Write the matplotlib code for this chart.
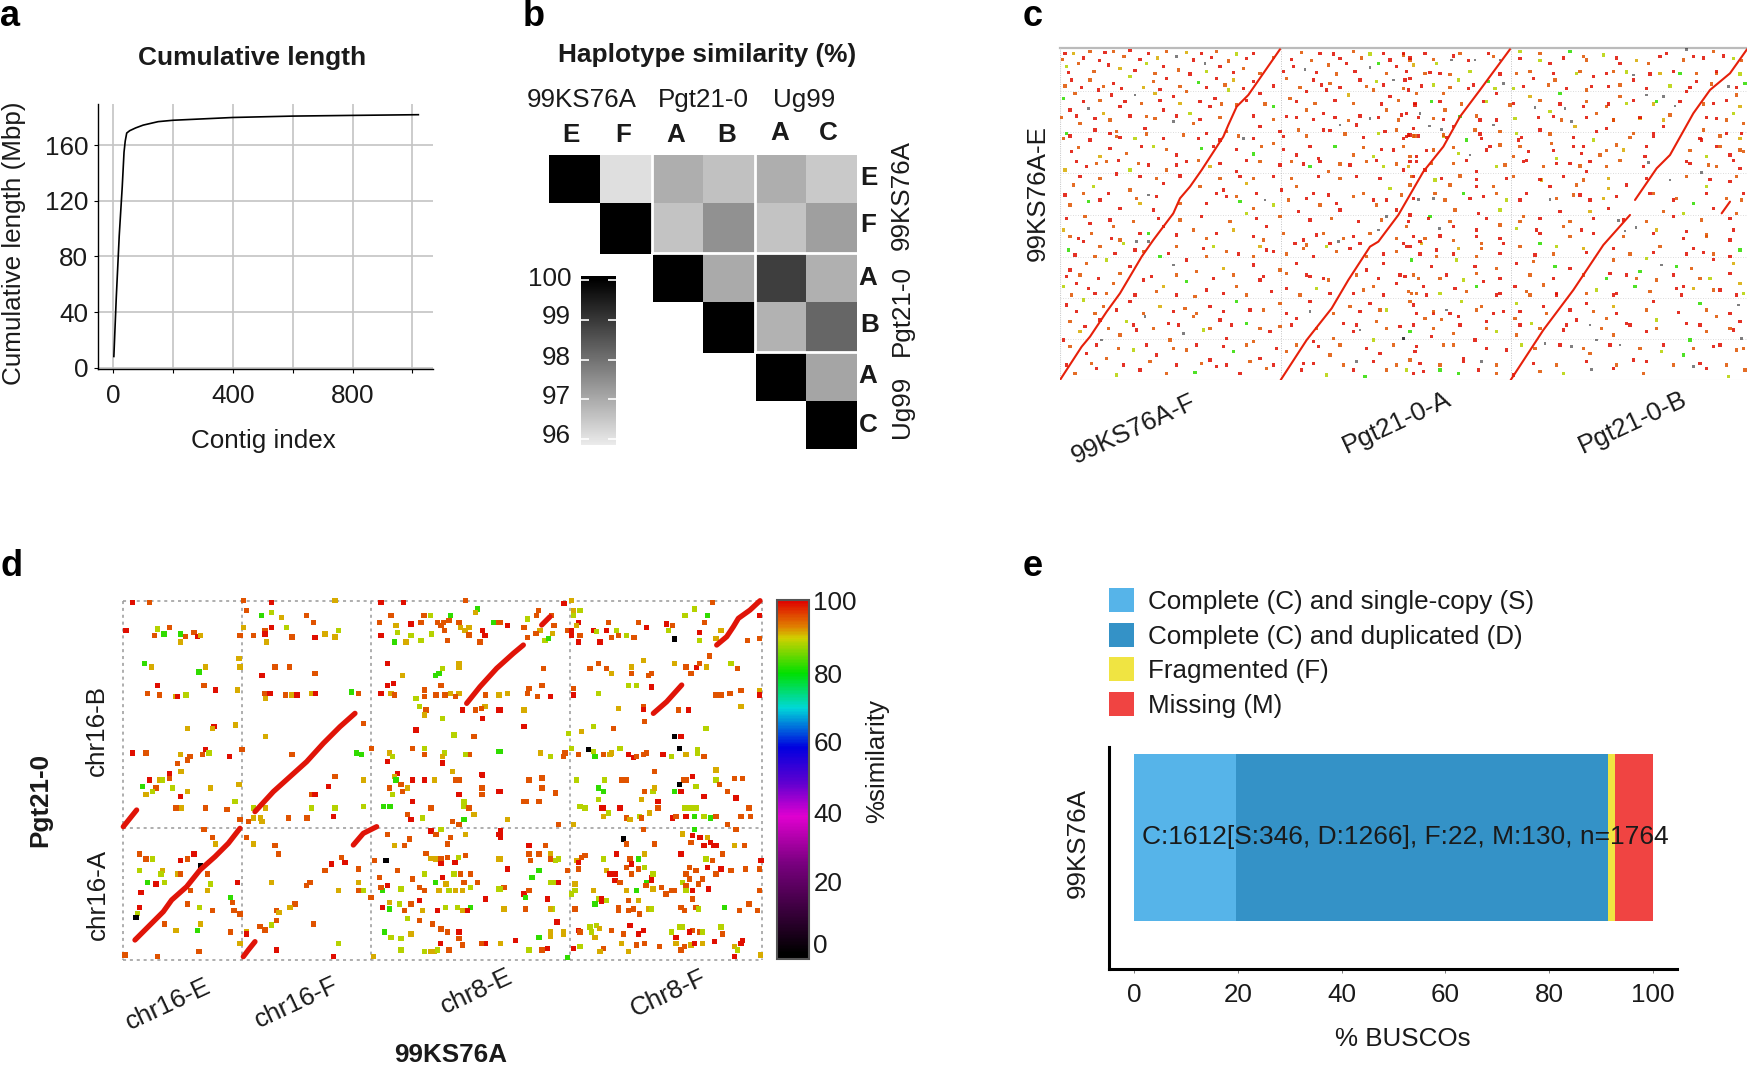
import numpy as np
import matplotlib
matplotlib.use("Agg")
import matplotlib.pyplot as plt
from matplotlib.cm import ScalarMappable
from matplotlib.colors import LinearSegmentedColormap, Normalize
from matplotlib.patches import Patch

plt.rcParams["font.family"] = ["Liberation Sans", "DejaVu Sans"]

W, H = 1747, 1065

# ------------------ PANEL A DATA ------------------

contig_index = [2, 10, 20, 30, 36, 40, 45, 55, 75, 100, 150, 200, 300, 400, 600, 800, 1020]
cumulative_mbp = [8, 50, 95, 130, 155, 163, 168.8, 170.5, 172.5, 174.5, 177, 178, 179, 180, 181, 181.5, 182]

# ------------------ PANEL B DATA ------------------

haplotype_similarity = [
    [100, 96.07, 96.94, 96.6, 96.94, 96.45],
    [np.nan, 100, 96.55, 97.44, 96.55, 97.2],
    [np.nan, np.nan, 100, 97.0, 98.9, 96.9],
    [np.nan, np.nan, np.nan, 100, 96.85, 98.2],
    [np.nan, np.nan, np.nan, np.nan, 100, 97.08],
    [np.nan, np.nan, np.nan, np.nan, np.nan, 100],
]

# ------------------ PANEL C DATA ------------------
# genome bins on both axes; the dots are a hand-read sample, far fewer than the original

c_lines = [
    ([120, 185, 210, 260, 300, 365, 400, 460, 480, 510, 545, 610, 625, 650, 685, 730, 780],
     [1050, 950, 920, 845, 790, 680, 630, 550, 505, 470, 420, 320, 285, 230, 195, 130, 58]),
    ([782, 860, 935, 985, 1050, 1075, 1135, 1210, 1270, 1320, 1380, 1470],
     [1050, 930, 835, 750, 650, 635, 555, 425, 350, 260, 180, 58]),
    ([1472, 1570, 1660, 1750, 1830], [1050, 900, 780, 645, 555]),
    ([1845, 1910, 1950, 2020, 2070, 2130, 2181], [510, 415, 375, 250, 180, 130, 58]),
    ([2105, 2130], [550, 515]),
]

c_dots_left = [
    135,70,99, 160,70,91, 210,65,95, 255,68,99, 280,65,95, 330,62,99, 385,70,99, 440,65,95, 470,80,2, 500,68,91, 545,70,99, 590,65,95, 650,72,88, 700,70,99, 845,68,95, 900,70,99, 940,72,99, 1000,65,95, 1050,72,88, 1090,70,99, 1150,75,95,
    140,110,88, 175,100,95, 265,105,99, 300,115,91, 380,100,88, 430,110,99, 475,120,95, 555,100,2, 600,110,99, 670,115,95, 820,110,99, 855,118,2, 925,105,95, 980,100,99, 1050,112,2, 1075,100,82, 1130,110,99, 1180,105,91,
    155,150,99, 210,150,95, 280,160,99, 330,140,88, 400,155,95, 440,145,99, 535,158,82, 590,145,99, 640,150,91, 700,155,99, 800,145,95, 880,150,99, 930,160,95, 1020,150,99, 1070,155,88, 1120,150,2, 1170,145,99,
    130,205,82, 165,190,95, 235,180,99, 275,195,99, 345,195,2, 405,190,91, 460,200,99, 500,185,95, 585,205,99, 625,180,88, 720,190,99, 810,205,95, 860,185,99, 920,180,99, 985,195,91, 1060,180,95, 1110,200,99, 1190,190,95,
    150,240,99, 205,235,2, 250,250,91, 300,230,99, 380,260,95, 430,240,99, 510,250,88, 570,230,99, 650,225,95, 760,230,82, 800,260,99, 860,240,95, 910,250,99, 1020,258,99, 1050,265,2, 1100,240,95, 1160,250,99,
    140,310,82, 180,280,95, 225,300,99, 290,320,95, 345,325,88, 375,295,99, 460,275,2, 520,280,95, 560,310,99, 620,305,95, 670,325,2, 720,290,99, 790,320,99, 835,300,95, 910,300,99, 960,285,2, 1010,285,99, 1075,310,88, 1130,300,95, 1165,315,99,
    155,365,99, 210,330,99, 240,380,91, 320,370,95, 400,350,88, 470,375,99, 545,355,82, 600,330,99, 700,372,82, 760,340,95, 830,375,99, 895,385,99, 945,350,82, 1000,375,95, 1060,380,88, 1120,360,99, 1170,380,95,
    135,420,91, 200,410,99, 260,395,95, 330,420,88, 385,405,99, 440,420,95, 500,395,99, 570,410,91, 650,425,99, 720,395,95, 780,405,99, 870,410,82, 925,425,95, 990,405,99, 1040,395,95, 1090,410,88, 1150,420,99, 1190,395,99,
    160,465,95, 220,470,88, 265,490,99, 330,480,95, 385,495,2, 430,460,99, 540,470,95, 610,480,99, 680,460,91, 735,510,2, 785,480,99, 830,470,95, 880,490,99, 950,520,99, 1000,500,95, 1060,510,99, 1110,475,88, 1170,465,95,
    150,525,95, 205,515,82, 300,535,99, 360,520,91, 400,540,99, 560,520,99, 620,500,99, 660,515,82, 700,535,95, 760,525,88, 835,545,99, 900,525,95, 960,540,99, 1070,525,95, 1130,540,99,
    130,600,91, 210,580,99, 280,590,95, 350,635,2, 385,635,2, 385,610,82, 430,590,99, 520,600,95, 590,610,99, 680,550,88, 640,600,91, 740,590,99, 790,610,95, 850,630,99, 910,610,95, 955,635,2, 1000,620,99, 1050,610,95, 1075,600,2, 1100,560,2, 1180,620,99,
    145,660,82, 190,635,99, 240,650,95, 310,640,88, 345,660,99, 470,650,95, 550,655,99, 580,650,88, 620,665,95, 720,650,91, 760,665,99, 850,655,95, 920,650,88, 990,655,99, 1040,680,95, 1160,650,99,
    150,720,99, 200,700,95, 260,690,88, 330,710,99, 420,680,82, 460,705,2, 500,690,99, 530,725,95, 610,715,91, 700,705,99, 780,720,95, 830,700,99, 870,740,99, 925,750,95, 1040,720,99, 1090,700,99, 1180,735,95,
    130,770,88, 170,760,99, 225,790,99, 280,760,95, 370,750,99, 430,770,91, 500,755,82, 560,780,99, 650,770,95, 720,750,99, 800,775,99, 890,775,88, 1000,790,99, 1060,770,95, 1130,760,99, 1190,790,95,
    140,825,99, 190,810,88, 250,830,95, 330,815,99, 420,830,91, 495,835,95, 570,830,99, 650,815,82, 690,840,99, 780,820,95, 870,845,2, 870,815,99, 990,830,95, 1050,820,99, 1100,840,88, 1170,815,95,
    150,875,95, 240,870,99, 320,875,88, 375,860,2, 445,880,99, 520,860,95, 600,870,99, 680,880,82, 780,890,95, 830,865,99, 970,880,99, 1020,900,2, 1070,875,95, 1140,890,99,
    130,930,99, 180,905,91, 245,930,2, 300,915,95, 350,900,99, 490,910,2, 450,930,95, 550,900,88, 620,925,99, 700,935,95, 750,905,99, 880,935,99, 940,925,95, 1000,905,99, 1060,930,88, 1150,925,2,
    200,970,99, 260,985,95, 340,960,88, 410,975,99, 500,960,95, 570,990,99, 640,965,82, 720,985,99, 800,965,95, 850,1000,99, 930,975,95, 1010,995,2, 1080,970,99, 1170,990,95,
    165,1030,95, 230,1015,99, 290,1035,88, 360,1020,99, 440,1030,95, 525,1028,82, 590,1010,99, 660,1030,99, 740,1015,95, 845,1020,99, 920,1035,88, 1000,1020,99, 1035,1040,82, 1100,1020,95, 1180,1030,99,
]

c_dots_right = [
    10,70,99, 30,90,95, 75,70,99, 110,100,88, 155,90,2, 180,70,95, 225,90,2, 265,70,99, 300,90,2, 360,65,88, 420,70,95, 450,100,99, 510,65,82, 550,80,95, 610,75,88, 660,100,99, 700,135,2, 745,100,95, 800,70,99, 860,58,2, 880,80,99, 940,65,95, 1000,85,88,
    15,150,99, 75,130,95, 120,130,99, 175,150,88, 265,155,82, 310,160,2, 350,130,95, 400,145,99, 465,150,95, 530,130,88, 580,140,99, 640,125,95, 700,150,99, 780,130,91, 840,130,82, 890,155,99, 950,130,95, 1035,160,82,
    25,180,99, 100,165,88, 130,190,95, 205,175,99, 290,190,99, 340,175,88, 390,200,91, 480,190,82, 560,180,95, 625,170,99, 660,200,95, 740,195,2, 790,200,2, 860,185,99, 985,170,2, 1010,195,95,
    45,225,99, 95,215,82, 135,240,95, 250,215,99, 330,225,95, 405,232,2, 450,245,88, 495,235,2, 550,230,99, 620,230,95, 680,220,88, 770,215,82, 825,228,2, 940,220,99, 1020,230,91,
    5,255,99, 60,250,2, 100,265,95, 180,260,82, 240,270,99, 345,265,88, 460,260,99, 515,275,2, 590,250,95, 640,270,99, 720,265,91, 810,255,95, 950,265,99, 1000,250,88, 1030,280,95,
    40,295,99, 88,288,2, 125,298,2, 160,290,99, 225,300,95, 280,285,2, 350,310,88, 420,300,99, 525,290,91, 620,295,99, 700,310,95, 790,290,99, 910,300,95, 980,310,99,
    20,320,99, 45,318,95, 130,320,88, 200,330,82, 245,325,99, 300,345,95, 355,330,99, 455,340,95, 520,350,99, 580,330,88, 650,345,95, 760,320,99, 905,330,99, 960,350,95, 1020,325,91,
    50,380,99, 100,360,95, 175,370,88, 210,375,2, 270,350,99, 340,380,95, 385,365,99, 470,385,88, 545,370,99, 600,375,95, 670,360,91, 735,380,99, 920,380,88, 990,375,99, 1030,365,95,
    25,410,91, 75,420,99, 160,400,95, 230,425,99, 290,410,88, 370,395,99, 430,410,95, 510,400,99, 560,425,99, 620,410,95, 745,398,2, 870,400,99, 905,428,2, 950,410,95, 1020,415,99,
    40,440,99, 105,450,88, 150,465,95, 230,470,99, 280,470,95, 320,445,99, 425,450,91, 450,470,99, 530,465,95, 625,475,91, 680,465,99, 810,450,2, 920,470,88, 990,455,99,
    55,508,2, 100,505,2, 135,510,95, 190,490,82, 250,500,99, 320,510,88, 380,490,99, 450,508,2, 520,495,95, 570,510,99, 650,500,99, 760,490,95, 820,510,99, 880,520,82, 1025,510,95,
    30,555,99, 90,560,82, 165,540,95, 235,550,99, 300,540,88, 370,560,95, 480,545,99, 570,545,91, 625,535,99, 790,545,95, 850,550,88, 940,535,99, 1010,550,95,
    20,590,95, 118,596,2, 160,590,99, 230,600,99, 300,585,95, 350,595,88, 410,600,99, 490,590,95, 545,600,99, 655,572,2, 675,603,2, 708,592,2, 770,600,91, 860,605,99, 920,620,95, 1000,600,99,
    30,650,99, 65,640,91, 110,660,99, 175,655,91, 245,655,95, 310,640,99, 360,650,95, 420,640,82, 470,650,88, 550,655,91, 640,655,99, 780,650,95, 880,655,99, 910,668,99, 1020,660,82,
    35,690,82, 95,710,99, 170,690,88, 225,710,99, 290,715,95, 350,700,99, 400,695,95, 465,710,82, 510,715,99, 640,690,95, 740,685,88, 785,705,2, 830,710,82, 875,715,95, 940,688,99, 1000,700,91,
    15,740,99, 70,770,99, 120,745,95, 190,750,88, 250,755,99, 345,770,99, 430,765,95, 620,745,82, 680,735,99, 720,725,82, 770,750,95, 850,770,99, 930,745,88, 1020,760,91,
    35,790,95, 120,790,88, 165,775,99, 230,770,82, 300,790,99, 390,795,95, 470,790,99, 590,780,88, 650,790,99, 705,770,82, 830,775,99, 880,775,91, 960,780,99, 1030,790,88,
    40,825,99, 100,850,99, 140,840,2, 185,815,88, 245,830,95, 310,845,99, 350,820,88, 430,830,99, 560,820,99, 640,830,91, 760,815,99, 900,820,82, 1015,825,2,
    75,865,95, 125,868,95, 175,860,99, 260,875,99, 345,865,95, 395,880,88, 530,870,99, 570,885,2, 620,865,95, 680,880,99, 770,870,88, 860,880,99, 950,860,95, 1020,875,99,
    10,925,2, 30,905,82, 95,920,99, 160,910,95, 225,930,99, 290,905,88, 350,915,95, 490,900,99, 590,930,2, 640,915,95, 740,905,99, 870,930,82, 920,905,95, 1000,900,99, 1025,925,2,
    45,965,99, 130,945,95, 190,985,99, 245,995,2, 320,960,99, 365,945,88, 435,940,2, 515,950,2, 570,970,95, 660,945,2, 700,990,99, 785,965,88, 850,975,82, 940,950,99, 1010,960,95,
    20,1020,88, 70,1025,99, 120,1020,82, 175,1030,82, 235,1020,99, 290,1030,95, 340,1035,99, 420,1025,95, 490,1030,88, 575,1018,2, 640,1015,99, 730,1030,95, 880,1010,2, 920,1015,99, 985,1040,88, 1035,1020,95,
]

# second pass over panel c, clumps and rows missed by the first one, x over the whole panel
c_dots_extra = [
    128,88,95, 190,84,99, 238,92,99, 312,80,95, 360,88,99, 412,84,91, 520,90,99, 575,82,99, 625,93,95, 680,86,99, 760,82,95, 815,88,99, 875,92,95, 960,86,99, 1025,84,95, 1110,90,99, 1170,84,99, 1240,88,95, 1300,78,99, 1345,92,99, 1420,80,95, 1500,85,99, 1560,92,88, 1630,84,99, 1700,90,95, 1790,84,99, 1850,92,91, 1920,80,99, 1990,90,95, 2050,84,99, 2110,78,99, 2165,92,95,
    145,128,99, 222,125,95, 345,122,99, 405,130,95, 510,132,99, 560,125,88, 640,128,99, 720,130,95, 790,125,99, 890,128,99, 950,132,95, 1005,125,99, 1100,130,95, 1160,125,99, 1230,128,99, 1290,133,95, 1350,125,88, 1440,132,99, 1530,125,95, 1600,130,99, 1680,124,95, 1760,130,99, 1820,126,88, 1890,132,99, 1960,125,99, 2030,130,95, 2090,124,99, 2160,132,88,
    135,168,95, 185,172,99, 250,170,95, 305,175,99, 370,172,91, 420,178,99, 480,170,95, 560,172,99, 615,165,95, 670,175,99, 760,168,99, 840,172,95, 905,165,99, 960,172,99, 1040,170,95, 1090,165,99, 1150,175,95, 1205,168,99, 1290,172,95, 1360,165,99, 1425,175,88, 1510,170,99, 1585,165,95, 1640,175,99, 1715,170,99, 1800,165,95, 1880,175,99, 1950,168,88, 2010,172,99, 2075,162,95, 2150,172,99,
    190,215,99, 240,212,95, 315,215,99, 365,220,95, 420,212,99, 480,220,91, 540,215,99, 605,222,95, 680,212,99, 735,222,95, 830,215,99, 885,220,95, 945,212,99, 1000,220,95, 1085,222,99, 1135,212,95, 1185,220,99, 1260,215,99, 1325,222,95, 1400,215,88, 1480,220,99, 1560,212,95, 1620,222,99, 1700,215,95, 1765,222,99, 1840,212,99, 1900,222,91, 1980,215,99, 2050,222,95, 2120,212,99,
    125,262,95, 170,258,99, 225,265,99, 270,270,95, 330,258,99, 405,265,95, 470,258,99, 540,268,99, 600,262,95, 700,258,99, 760,268,95, 830,262,99, 880,268,99, 945,262,99, 985,272,95, 1075,262,99, 1135,270,95, 1195,262,99, 1270,268,99, 1370,258,95, 1430,270,99, 1555,262,99, 1625,270,95, 1700,262,99, 1780,270,95, 1860,262,99, 1930,270,91, 2060,262,99, 2120,270,95,
    130,325,95, 150,318,99, 270,310,99, 290,305,95, 300,322,99, 380,312,95, 430,325,99, 490,315,95, 535,325,99, 655,318,95, 700,325,99, 780,305,99, 860,318,95, 930,302,99, 975,312,95, 1030,322,99, 1095,305,99, 1180,318,95, 1150,325,99, 1170,315,99, 1195,318,99, 1270,315,95, 1280,322,99, 1380,312,99, 1440,305,95, 1505,322,99, 1590,312,95, 1660,322,99, 1730,305,99, 1830,322,95, 1900,310,99, 2040,325,99, 2100,318,95, 2165,310,99,
    175,352,95, 270,355,99, 365,350,99, 440,358,95, 580,350,99, 650,358,99, 725,350,95, 790,358,99, 870,350,99, 1030,352,95, 1085,358,99, 1150,350,95, 1220,362,99, 1300,352,95, 1400,360,99, 1500,350,95, 1600,362,99, 1690,350,99, 1760,362,95, 1880,350,99, 2010,362,95, 2090,350,99, 2160,360,95,
    170,395,99, 230,400,95, 295,392,99, 355,400,95, 470,405,99, 535,392,95, 600,400,99, 680,392,99, 815,395,95, 850,402,99, 900,395,99, 960,402,95, 1070,392,99, 1130,402,95, 1170,395,99, 1235,400,95, 1340,392,99, 1455,405,95, 1520,392,99, 1610,400,99, 1680,408,95, 1710,395,99, 1800,392,95, 1870,410,99, 2000,395,99, 2065,405,95, 2140,392,99,
    180,440,99, 240,445,95, 290,432,99, 360,440,99, 410,445,95, 480,438,99, 600,445,95, 660,440,99, 700,445,95, 760,440,99, 815,445,95, 895,440,99, 960,445,95, 1010,440,99, 1080,445,99, 1175,440,95, 1265,445,99, 1320,438,95, 1370,448,99, 1480,440,95, 1560,448,99, 1630,440,99, 1690,450,95, 1765,445,91, 1880,445,99, 2000,440,95, 2070,448,99, 2150,440,95,
    135,495,99, 190,490,95, 240,510,99, 350,505,95, 410,500,99, 480,520,95, 590,490,99, 650,500,95, 710,490,99, 805,510,95, 860,505,99, 925,495,99, 1030,490,95, 1100,510,99, 1145,495,95, 1180,505,99, 1245,490,95, 1350,505,99, 1430,490,95, 1500,510,99, 1610,505,95, 1680,495,99, 1750,505,91, 1890,490,99, 1970,505,95, 2060,490,99, 2120,505,95, 2170,490,99,
    140,565,99, 195,560,95, 270,570,99, 340,575,95, 415,565,99, 480,570,95, 545,560,99, 630,575,95, 710,565,99, 780,560,95, 870,570,99, 935,565,95, 1015,575,99, 1085,570,95, 1165,575,99, 1225,565,99, 1290,575,95, 1400,565,99, 1500,575,95, 1560,565,99, 1650,575,95, 1720,565,99, 1810,570,99, 1880,575,95, 1960,560,99, 2045,570,95, 2130,565,99,
    150,620,95, 175,625,99, 215,610,95, 275,625,99, 300,630,95, 360,610,99, 470,615,99, 560,625,95, 700,620,99, 730,630,95, 825,640,99, 860,645,95, 890,615,99, 930,640,99, 970,625,95, 1020,640,99, 1130,625,95, 1150,640,99, 1200,635,99, 1215,625,95, 1260,618,99, 1300,632,95, 1370,620,99, 1385,640,95, 1440,625,99, 1560,610,99, 1650,620,95, 1720,610,99, 1810,620,95, 1900,610,99, 1990,625,99, 2060,615,95, 2130,630,99,
    165,675,99, 225,680,95, 285,670,99, 370,665,95, 445,670,99, 560,680,95, 655,672,99, 700,680,95, 740,660,99, 800,672,95, 880,680,99, 950,665,95, 1090,672,99, 1130,665,95, 1200,672,99, 1250,680,95, 1300,672,99, 1370,680,95, 1440,670,99, 1545,675,99, 1600,672,95, 1700,668,99, 1830,672,95, 1900,668,99, 2000,672,99, 2080,672,95, 2130,680,99,
    140,740,99, 180,735,95, 235,745,99, 300,730,95, 395,740,99, 470,735,95, 580,745,99, 640,735,95, 730,740,99, 800,730,95, 860,735,99, 910,745,99, 1010,735,95, 1075,745,99, 1140,735,99, 1195,745,95, 1280,735,99, 1370,730,95, 1440,745,99, 1530,735,95, 1600,745,99, 1690,735,95, 1770,730,99, 1850,745,95, 1960,735,99, 2040,745,95, 2130,730,99,
    155,795,95, 205,775,99, 260,790,95, 345,795,99, 410,785,95, 470,795,99, 525,800,95, 610,790,99, 680,795,95, 755,785,99, 840,795,95, 930,790,99, 1030,780,95, 1090,795,99, 1165,785,95, 1220,795,99, 1340,785,95, 1430,795,99, 1520,785,95, 1610,795,99, 1700,790,95, 1780,795,99, 1890,785,95, 1985,795,99, 2080,780,95, 2150,795,99,
    170,845,99, 225,850,95, 290,840,99, 370,850,95, 460,845,99, 530,850,95, 610,845,99, 730,840,95, 800,850,99, 940,850,95, 1020,845,99, 1080,840,95, 1190,850,99, 1240,845,95, 1290,850,99, 1370,840,95, 1420,850,99, 1500,845,99, 1580,850,95, 1650,840,99, 1720,845,95, 1790,850,99, 1880,840,95, 1975,848,99, 2060,840,95, 2130,850,99,
    195,890,99, 265,895,95, 340,885,99, 400,895,95, 475,885,99, 570,895,95, 635,885,99, 720,895,95, 815,885,99, 890,895,95, 1010,885,99, 1100,895,95, 1180,885,99, 1240,895,95, 1320,885,99, 1400,895,95, 1500,885,99, 1560,895,95, 1640,885,99, 1745,895,95, 1830,885,99, 1910,895,95, 2040,885,99, 2130,895,95,
    150,950,95, 230,945,99, 295,955,95, 380,945,99, 460,955,95, 530,945,99, 610,950,99, 680,945,95, 770,955,99, 830,945,95, 895,950,99, 960,945,95, 1040,955,99, 1120,945,95, 1190,950,99, 1300,945,95, 1400,955,99, 1545,955,95, 1620,945,99, 1690,955,95, 1770,945,99, 1860,955,95, 1930,945,99, 2020,955,95, 2100,945,99, 2170,955,95,
    140,1005,99, 215,1000,95, 310,1005,99, 390,995,95, 470,1005,99, 545,1000,95, 620,1005,99, 690,995,95, 760,1005,99, 880,1000,99, 970,1005,95, 1060,995,99, 1130,1005,95, 1200,1000,99, 1260,1005,95, 1330,995,99, 1430,1005,95, 1540,1000,99, 1610,1005,95, 1700,995,99, 1790,1005,95, 1880,995,99, 1960,1005,95, 2040,1000,99, 2120,1005,95,
]

# ------------------ PANEL D DATA ------------------

d_lines = [
    ([70, 90, 110], [740, 715, 690]),
    ([105, 140, 190, 215, 260, 300, 345, 385, 420], [1080, 1045, 995, 960, 920, 870, 830, 790, 745]),
    ([430, 445, 465], [1130, 1110, 1085]),
    ([465, 520, 570, 620, 670, 720, 765], [695, 635, 590, 545, 490, 440, 400]),
    ([760, 790, 830], [795, 760, 740]),
    ([1100, 1140, 1190, 1240, 1270], [370, 320, 265, 220, 195]),
    ([1325, 1350], [135, 110]),
    ([1660, 1700, 1745], [400, 365, 315]),
    ([1850, 1880, 1900, 1915, 1950, 1980], [195, 170, 140, 115, 90, 62]),
]

d_dots_left = [
    98,67,99, 148,67,95, 430,62,95, 515,67,99, 705,62,91, 843,67,99, 910,67,99, 1097,62,95,
    440,92,95, 515,97,88, 485,107,82, 545,112,91, 620,107,95, 873,107,95, 972,107,95, 992,107,88, 1052,107,82, 1132,87,82, 1127,97,91,
    640,127,95, 838,127,95, 933,132,99, 963,127,95, 1012,127,95, 1030,127,95, 1047,122,95, 1077,127,95, 1181,127,88, 1197,127,95, 888,137,91,
    78,152,99, 173,147,88, 208,142,95, 192,162,82, 163,167,95, 242,162,82, 257,170,95, 282,157,95, 292,170,99, 302,167,91, 242,186,91, 430,142,91, 420,167,95, 461,167,95, 495,152,95, 495,162,99, 515,142,99, 500,186,91, 560,142,88, 576,171,95, 645,172,99, 675,162,91, 715,152,88, 705,171,91, 1082,142,91, 1107,142,91, 1095,152,91, 1107,165,95, 1033,152,95, 1023,137,95, 843,167,99, 893,157,88, 933,167,88, 995,162,88, 1157,167,99, 1140,186,95, 1043,182,95, 963,182,88, 918,186,91, 883,186,82,
    133,251,82, 155,261,91, 297,276,82, 317,261,91, 417,236,91, 420,261,91, 525,261,95, 568,261,95, 486,286,99, 645,281,95, 863,251,99, 1077,251,91, 1077,262,91, 1027,266,88, 1017,281,82, 1007,286,82, 908,286,91,
    173,316,99, 143,340,95, 178,345,95, 228,350,91, 233,350,99, 258,345,88, 312,316,95, 347,330,99, 412,330,91, 495,340,95, 510,340,99, 556,345,95, 576,345,91, 591,345,99, 635,340,91, 647,340,99, 755,336,82, 775,340,95, 497,355,91, 863,316,99, 880,311,99, 843,340,99, 873,340,91, 883,345,95, 973,330,95, 1023,316,95, 1008,345,95, 1035,345,95, 1052,340,91, 1077,340,91, 1067,350,95, 973,350,95, 948,355,88, 1157,345,99, 1197,345,91,
    958,380,88, 978,390,95, 973,405,91, 1087,390,99, 1127,390,95, 1157,380,91, 1197,390,99, 1147,415,99, 1027,415,88, 790,430,95, 262,445,91, 342,440,99, 337,445,91, 407,435,91, 496,470,91, 948,450,99, 1062,465,88, 1122,470,95,
    98,519,99, 138,519,95, 242,524,91, 317,509,99, 327,519,88, 307,524,95, 270,530,95, 388,529,99, 426,508,95, 576,524,95, 770,519,82, 785,524,82, 815,505,95, 938,505,95, 973,505,88, 973,524,95, 868,519,91, 878,530,88, 1033,519,88, 1027,530,91, 1107,524,95, 1097,524,88, 1197,514,82,
    262,540,95, 233,550,95, 863,544,99, 1027,549,99, 243,575,91, 1057,574,91,
    208,580,99, 208,595,95, 148,600,99, 178,600,91, 188,600,88, 705,590,95, 790,600,91, 893,580,99, 883,590,91, 888,600,82, 938,600,99, 973,600,99, 1003,600,91, 1067,600,95, 1077,600,95, 1147,585,99, 417,614,91, 128,619,82, 168,624,95, 158,634,88, 218,624,88, 262,634,91, 332,624,91, 138,644,91, 242,649,99, 685,619,99, 635,644,95, 645,644,99, 903,614,95, 908,634,95, 923,624,91, 868,624,95, 878,644,88, 1077,644,99, 1147,624,95, 1147,644,95, 1197,634,99,
    405,664,88, 228,684,95, 245,684,91, 317,684,95, 381,689,95, 461,684,88, 497,684,91, 635,684,88, 705,684,88, 790,679,88, 850,679,82, 870,679,82, 938,664,99, 993,684,95, 1092,664,88, 1092,678,88, 1107,684,95, 923,704,95, 933,718,99, 968,714,88, 1122,704,91, 1092,718,82, 1057,724,95, 1077,733,95, 461,714,91, 481,714,91, 486,725,91, 566,714,95, 621,714,95, 700,709,99, 446,725,95, 420,718,95,
    312,748,95, 337,772,95, 347,792,91, 440,772,95, 461,792,91, 525,797,95, 863,763,95, 928,777,95, 993,753,99, 1008,763,95, 1023,748,88, 1052,772,95, 1097,763,91, 1043,792,95, 1197,763,99, 883,797,91, 913,797,95, 118,822,95, 138,837,95, 158,837,88, 242,842,99, 262,837,95, 282,822,99, 535,822,95, 725,832,95, 735,847,99, 695,852,99, 675,872,95, 775,867,95, 823,842,95, 858,842,2, 978,820,95, 993,835,91, 1008,837,91, 1023,837,95, 1043,832,95, 1023,850,99, 1065,847,99, 1075,832,88, 1097,827,95, 1197,837,91,
    118,872,88, 188,872,91, 183,882,88, 232,882,91, 242,882,95, 322,882,95, 892,872,95, 973,882,88, 1062,882,88, 1082,882,95, 1112,882,95, 1027,892,99, 838,892,95, 938,897,95, 143,907,82, 168,912,99, 193,907,88, 332,912,88, 412,907,99, 515,907,91, 630,907,95, 620,917,95, 775,907,91, 1007,907,82, 1038,912,91, 1092,907,95, 1132,907,95, 123,937,99, 322,932,91, 272,932,95, 715,932,91, 775,932,95, 790,932,88, 848,932,82, 863,917,99, 843,922,95, 903,927,88, 958,922,95, 973,932,95, 1017,932,91, 1047,932,88, 1067,932,91, 1087,932,91, 1112,922,88, 1197,927,88,
    392,952,82, 397,967,95, 813,952,95, 958,962,99, 1157,957,99, 118,982,99, 262,972,95, 298,982,88, 337,992,95, 402,992,95, 585,972,95, 570,982,91, 530,992,95, 537,997,91, 868,967,91, 898,972,88, 848,982,99, 868,987,82, 933,972,95, 1037,982,88, 1072,982,88, 1087,992,91, 1112,982,82, 1102,992,99, 968,992,91, 913,992,95, 1012,992,99, 420,1002,95, 113,1000,88, 108,1012,2, 923,1015,88, 958,1022,95,
    193,1032,95, 302,1032,91, 228,1052,91, 292,1052,82, 392,1056,95, 640,1032,95, 480,1040,95, 495,1050,95, 515,1035,88, 530,1022,95, 440,1056,91, 440,1062,99, 853,1056,82, 873,1072,88, 903,1076,88, 933,1062,91, 997,1032,95, 1023,1047,95, 1043,1056,95, 1077,1056,99, 1077,1076,95, 1087,1095,95, 1147,1090,99, 1157,1090,99, 1022,1090,99, 420,1090,91, 715,1090,88, 530,1110,99, 297,1115,95, 75,1125,95, 173,1130,95, 700,1130,99, 820,1130,91, 903,1110,88, 973,1115,88, 993,1115,91, 1003,1115,91, 1012,1110,88, 1047,1110,95, 302,857,2,
]

d_dots_right = [
    175,92,95, 170,107,95, 215,107,95, 62,127,95, 40,127,82, 82,137,99, 142,117,88, 132,142,95, 222,137,95, 7,152,99, 15,167,99, 2,186,95, 180,152,91, 168,160,95, 143,172,95, 195,182,88, 205,176,82, 218,160,91, 190,265,95, 252,70,99, 275,62,91, 280,92,91, 300,92,88, 280,107,88, 295,127,99, 290,137,91, 262,152,95, 275,152,99, 275,165,99, 300,167,95, 295,186,99, 340,152,99, 350,155,88, 360,186,99, 380,152,99, 385,127,95, 410,152,88, 395,172,95, 415,167,95, 440,167,88, 462,172,95, 475,127,95, 500,142,99, 560,132,99, 578,137,95, 565,152,88, 583,177,2, 658,157,99, 658,182,88, 615,107,88, 643,87,88, 683,107,82, 698,67,95, 673,127,95, 838,107,99, 803,182,95, 838,175,95, 723,152,91, 708,176,91,
    490,241,91, 330,266,95, 355,251,95, 380,266,95, 395,281,91, 455,261,91, 455,281,95, 505,286,95, 515,281,95, 583,251,91, 618,261,95, 633,281,95, 650,262,99, 658,251,95, 680,261,91, 688,228,95, 753,251,88, 772,266,95, 445,316,88, 470,316,88, 515,321,99, 280,326,95, 280,345,99, 355,340,88, 17,345,95, 57,345,91, 82,340,91, 147,326,95, 143,340,95, 186,316,95, 172,350,95, 212,350,99, 708,345,95, 723,345,95, 750,340,95, 783,331,95, 783,380,91, 838,331,91, 838,345,99,
    15,380,91, 5,385,95, 60,390,99, 132,390,91, 490,380,95, 490,388,99, 415,385,91, 595,390,95, 625,390,99, 7,415,99, 132,440,99, 494,425,95, 340,440,88, 305,455,91, 400,445,95, 265,460,88, 678,445,88, 583,470,2, 603,470,99, 62,514,82, 275,505,88, 325,509,2, 340,514,88, 345,530,82, 420,505,88, 598,505,2, 652,509,88, 652,520,88, 182,519,91, 212,530,88, 255,519,95, 250,530,95, 295,524,95, 370,524,95, 390,524,91, 395,519,91, 445,524,99, 460,533,99, 470,529,95, 490,524,95, 500,519,95, 549,524,99, 574,530,88, 618,524,91, 672,530,95,
    523,574,95, 708,570,91, 708,600,88, 638,590,99, 6,584,99, 147,600,95, 186,594,95, 290,600,88, 373,600,88, 425,600,95, 440,600,95, 610,600,95, 620,600,95, 763,595,95, 788,595,95, 598,614,2, 718,614,95, 648,619,88, 5,624,95, 5,644,95, 62,634,99, 186,624,95, 227,639,95, 355,624,82, 370,634,82, 494,634,95, 519,634,88, 524,624,91, 583,634,82, 603,634,99, 743,634,95, 132,664,95, 138,664,95, 177,664,95, 355,659,88, 484,659,91, 534,664,99, 672,649,99, 768,654,99, 300,679,88, 315,684,88, 365,684,99, 370,684,99, 420,684,99, 534,684,95, 615,684,88, 632,684,88, 648,684,88, 807,684,95, 385,699,88, 370,709,91, 509,699,91, 440,714,95, 450,718,91, 479,709,88, 484,714,95, 578,714,99, 588,709,95, 618,709,99, 643,709,82, 672,709,88, 692,714,82, 708,709,95, 783,709,95, 812,709,95, 82,718,91, 236,733,95, 280,733,91, 743,733,95,
    768,748,95, 490,748,95, 643,748,82, 62,752,99, 62,762,99, 62,772,99, 430,777,2, 608,762,91, 638,767,99, 660,772,99, 683,772,91, 692,787,99, 672,797,99, 700,797,99, 710,797,99, 633,787,95, 440,792,95, 524,792,95, 147,797,99, 197,797,95, 763,797,91, 793,797,95, 147,822,95, 177,822,95, 212,822,91, 212,837,95, 226,842,88, 236,837,88, 62,837,91, 152,842,95, 305,832,95, 315,827,95, 290,842,91, 295,847,99, 410,822,99, 370,837,88, 450,837,95, 455,852,99, 475,837,82, 494,822,91, 603,822,99, 678,837,88, 698,842,95, 728,822,95, 843,842,99,
    82,867,99, 177,872,82, 262,872,95, 295,867,95, 380,872,91, 390,882,99, 405,882,99, 440,862,95, 455,882,95, 475,867,95, 494,862,88, 628,862,95, 683,862,99, 723,867,99, 753,872,95, 797,867,95, 838,867,95, 708,882,95, 618,882,95, 648,872,95, 156,892,82, 405,902,99, 420,907,95, 514,892,99, 519,882,88, 514,902,99, 500,907,82, 498,917,95, 608,907,88, 628,897,95, 668,897,95, 212,907,88, 222,907,88, 236,907,99, 285,912,91, 655,912,95, 618,917,95, 72,922,95, 62,927,88, 285,932,88, 340,932,91, 440,932,91, 470,932,82, 519,927,91, 544,922,95, 574,932,95, 583,932,95, 618,932,88, 638,932,99, 685,927,99, 838,932,95,
    132,942,99, 147,932,95, 137,952,82, 558,942,95, 275,942,88, 17,957,99, 202,957,99, 355,957,88, 365,957,99, 365,965,99, 380,962,88, 345,972,82, 445,962,95, 475,962,91, 638,957,95, 807,972,95, 72,987,91, 137,987,95, 216,987,88, 212,987,91, 285,987,95, 415,982,95, 415,992,95, 460,987,95, 445,992,95, 479,1002,95, 505,987,91, 514,987,88, 603,982,95, 613,992,95, 648,982,95, 655,987,88, 733,982,82, 778,992,95, 832,992,95,
    231,1026,99, 330,1041,88, 350,1037,88, 358,1045,91, 335,1056,88, 295,1052,99, 300,1056,95, 395,1052,95, 450,1037,99, 490,1052,99, 475,1062,99, 430,1062,95, 574,1056,88, 598,1041,88, 608,1041,88, 638,1052,95, 628,1056,99, 658,1056,95, 668,1056,88, 723,1041,88, 728,1062,95, 212,1056,91, 212,1070,91, 250,1056,91, 250,1062,91, 345,1072,91, 588,1072,99, 177,1072,82, 107,1081,99, 15,1090,99, 5,1090,95, 62,1090,91, 300,1100,88, 280,1105,99, 370,1105,95, 360,1115,91, 425,1090,91, 445,1115,91, 470,1095,95, 494,1090,95, 539,1100,95, 588,1090,91, 603,1110,95, 613,1100,95, 633,1095,91, 643,1090,99, 668,1090,91, 703,1085,99, 788,1081,99, 783,1090,99, 763,1100,91, 773,1110,88, 147,1110,88, 186,1110,95, 202,1105,99, 763,1130,99, 262,1133,82, 842,1125,91,
]

# ------------------ PANEL E DATA ------------------

busco_labels = ["Complete (C) and single-copy (S)", "Complete (C) and duplicated (D)", "Fragmented (F)", "Missing (M)"]
busco_counts = [346, 1266, 22, 130]
busco_colors = ["#56B4E9", "#3492C7", "#F0E442", "#F04442"]
busco_text = "C:1612[S:346, D:1266], F:22, M:130, n=1764"

# ------------------ HELPERS ------------------

fig = plt.figure(figsize=(W / 100, H / 100), dpi=100)


def axes_px(left, top, right, bottom):
    return fig.add_axes([left / W, 1 - bottom / H, (right - left) / W, (bottom - top) / H])


def label(x, y, s, **kw):
    kw.setdefault("ha", "center")
    kw.setdefault("va", "center")
    kw.setdefault("color", "#1a1a1a")
    fig.text(x / W, 1 - y / H, s, **kw)


sim_cmap = LinearSegmentedColormap.from_list("similarity", [
    (0.0, "#000000"), (0.015, "#000000"), (0.267, "#7a0080"), (0.397, "#e000d0"),
    (0.49, "#6000d0"), (0.59, "#0000e0"), (0.70, "#00d8d8"), (0.797, "#00e000"),
    (0.895, "#d0d000"), (0.927, "#e08000"), (1.0, "#e00000"),
])
sim_norm = Normalize(0, 100)

FS = 18.7

# ------------------ PANEL A ------------------

ax = axes_px(98, 104, 433, 369)
ax.plot(contig_index, cumulative_mbp, color="black", lw=1.2, zorder=3)
ax.set_xlim(-51, 1069)
ax.set_ylim(-1, 189.7)
ax.set_xticks(range(0, 1001, 200))
ax.set_xticklabels(["0", "", "400", "", "800", ""], fontsize=FS, color="#1a1a1a")
ax.set_yticks(range(0, 161, 40))
ax.set_yticklabels(["0", "40", "80", "120", "160"], fontsize=FS, color="#1a1a1a")
ax.grid(True, color="#c4c4c4", lw=1.2)
ax.set_axisbelow(True)
ax.tick_params(axis="x", length=3, width=0.8, pad=8)
ax.tick_params(axis="y", length=3, width=0.8, pad=4)
for side in ("top", "right"):
    ax.spines[side].set_visible(False)
for side in ("left", "bottom"):
    ax.spines[side].set_linewidth(1.0)
label(252, 58, "Cumulative length", fontsize=18.9, fontweight="bold")
label(14, 243, "Cumulative length (Mbp)", fontsize=FS, rotation=90)
label(263, 441, "Contig index", fontsize=FS)

# ------------------ PANEL B ------------------

grey_cmap = LinearSegmentedColormap.from_list("grey", [(0, "#ebebeb"), (0.976, "#000000"), (1, "#000000")])
grey_norm = Normalize(95.85, 100.1)
edges = [0, 1, 2.05, 3.05, 4.1, 5.1, 6.1]

ax = axes_px(549.3, 154.7, 856.7, 449.3)
ax.pcolormesh(edges, edges, np.ma.masked_invalid(haplotype_similarity), cmap=grey_cmap, norm=grey_norm, edgecolors="none")
ax.set_xlim(0, 6.1)
ax.set_ylim(6.1, 0)
ax.axis("off")
ax.plot([2.03, 2.03], [0, 2.03], color="white", lw=2)
ax.plot([4.08, 4.08], [0, 4.08], color="white", lw=2)
ax.plot([2.03, 6.1], [2.03, 2.03], color="white", lw=2)
ax.plot([4.08, 6.1], [4.08, 4.08], color="white", lw=2)

cax = axes_px(581, 276, 616, 445)
cb = fig.colorbar(ScalarMappable(grey_norm, grey_cmap), cax=cax)
cb.outline.set_visible(False)
cb.set_ticks([96, 97, 98, 99, 100])
cax.yaxis.set_ticks_position("both")
cax.tick_params(axis="y", direction="in", color="white", length=5.5, width=1.2, labelleft=False, labelright=False)
for y, name in zip([278.5, 317.5, 357.6, 396.6, 435.6], ["100", "99", "98", "97", "96"]):
    label(571, y, name, fontsize=FS, ha="right")

label(707, 55, "Haplotype similarity (%)", fontsize=18.9, fontweight="bold")
for x, name in zip([582, 703, 804], ["99KS76A", "Pgt21-0", "Ug99"]):
    label(x, 100, name, fontsize=FS)
for x, y, name in zip([571, 623, 676, 727, 780, 828], [135, 135, 135, 135, 133, 133], "EFABAC"):
    label(x, y, name, fontsize=FS, fontweight="bold")
for x, y, name in zip([869, 868, 868, 870, 868, 868], [178, 225, 278, 325, 376, 425], "EFABAC"):
    label(x, y, name, fontsize=FS, fontweight="bold")
for y, name in zip([195, 310, 407], ["99KS76A", "Pgt21-0", "Ug99"]):
    label(902, y, name, fontsize=FS, rotation=90)

# ------------------ PANEL C ------------------

ax = axes_px(1060, 48.3, 1747, 380)
ax.set_xlim(120, 2181)
ax.set_ylim(1050, 55)
ax.axis("off")
for y in [182, 306, 430, 555, 680, 804, 928]:
    ax.axhline(y, color="#d0d0d0", lw=0.6, ls=(0, (1, 2)), zorder=1)
for x in [782, 1472]:
    ax.axvline(x, color="#c4c4c4", lw=0.7, ls=(0, (1, 1.5)), zorder=1)
ax.axhline(55, color="#bbbbbb", lw=1.6, zorder=1, clip_on=False)
ax.axhline(1050, color="#dddddd", lw=0.8, zorder=1)
ax.axvline(120, color="#cccccc", lw=0.8, ls=(0, (1, 1)), zorder=1)

c_left = np.array(c_dots_left, dtype=float).reshape(-1, 3)
c_right = np.array(c_dots_right, dtype=float).reshape(-1, 3)
c_right[:, 0] += 1140
c_extra = np.array(c_dots_extra, dtype=float).reshape(-1, 3)
c_all = np.vstack([c_left, c_right, c_extra])
dark = c_all[:, 2] < 10
ax.scatter(c_all[~dark, 0], c_all[~dark, 1], c=c_all[~dark, 2], cmap=sim_cmap, norm=sim_norm, marker="s", s=5.5, linewidths=0, alpha=0.85, zorder=2)
ax.scatter(c_all[dark, 0], c_all[dark, 1], c=c_all[dark, 2], cmap=sim_cmap, norm=sim_norm, marker="s", s=3, linewidths=0, alpha=0.5, zorder=2)
for xs, ys in c_lines:
    ax.plot(xs, ys, color="#e6200a", lw=1.5, zorder=3, solid_capstyle="round")

label(1038, 193, "99KS76A-E", fontsize=FS, rotation=90)
label(1134, 429, "99KS76A-F", fontsize=FS, rotation=25)
label(1397, 422, "Pgt21-0-A", fontsize=FS, rotation=25)
label(1633, 422, "Pgt21-0-B", fontsize=FS, rotation=25)

# ------------------ PANEL D ------------------

ax = axes_px(123.3, 600.7, 761.7, 960)
ax.set_xlim(70, 1985)
ax.set_ylim(1140, 62)
ax.axis("off")
for x in [70, 427, 814, 1410, 1985]:
    ax.plot([x, x], [62, 1140], color="#999999", lw=1.1, ls=(0, (2, 2.5)), clip_on=False, zorder=1)
for y in [62, 743, 1140]:
    ax.plot([70, 1985], [y, y], color="#999999", lw=1.1, ls=(0, (2, 2.5)), clip_on=False, zorder=1)

d_left = np.array(d_dots_left, dtype=float).reshape(-1, 3)
d_right = np.array(d_dots_right, dtype=float).reshape(-1, 3)
d_right[:, 0] += 1140
d_all = np.vstack([d_left, d_right])
ax.scatter(d_all[:, 0], d_all[:, 1], c=d_all[:, 2], cmap=sim_cmap, norm=sim_norm, marker="s", s=15, linewidths=0, clip_on=False, zorder=2)
for xs, ys in d_lines:
    ax.plot(xs, ys, color="#e01408", lw=3.8, zorder=3, solid_capstyle="round", clip_on=False)

cax = axes_px(776.7, 600, 809.3, 959)
cb = fig.colorbar(ScalarMappable(sim_norm, sim_cmap), cax=cax)
cb.outline.set_edgecolor("#555555")
cb.outline.set_linewidth(1.5)
cb.set_ticks([100, 79.5, 60.7, 40.9, 21.5, 4.2])
cb.set_ticklabels(["100", "80", "60", "40", "20", "0"])
cax.tick_params(axis="y", length=0, labelsize=FS, labelcolor="#1a1a1a", pad=3)

label(168, 1004, "chr16-E", fontsize=FS, rotation=25)
label(297, 1003, "chr16-F", fontsize=FS, rotation=25)
label(477, 991, "chr8-E", fontsize=FS, rotation=25)
label(668, 994, "Chr8-F", fontsize=FS, rotation=25)
label(451, 1055, "99KS76A", fontsize=FS, fontweight="bold")
label(40, 800, "Pgt21-0", fontsize=FS, fontweight="bold", rotation=90)
label(97, 730, "chr16-B", fontsize=FS, rotation=90)
label(98, 894, "chr16-A", fontsize=FS, rotation=90)
label(877, 761, "%similarity", fontsize=FS, rotation=90)

# ------------------ PANEL E ------------------

ax = axes_px(1108.6, 746.7, 1677, 969.3)
shares = 100 * np.array(busco_counts) / sum(busco_counts)
ax.barh([0], shares, left=np.concatenate([[0], np.cumsum(shares)[:-1]]), height=0.75, color=busco_colors, linewidth=0)
ax.set_xlim(-4.9, 104.6)
ax.set_ylim(-0.59, 0.41)
ax.set_yticks([])
ax.set_xticks(range(0, 101, 20))
ax.tick_params(axis="x", labelsize=FS, labelcolor="#1a1a1a", length=3, width=0.6, color="#666666", pad=7)
for side in ("top", "right"):
    ax.spines[side].set_visible(False)
for side in ("left", "bottom"):
    ax.spines[side].set_linewidth(2.2)

label(1142, 837, busco_text, fontsize=19, ha="left")
label(1078, 843, "99KS76A", fontsize=FS, rotation=90)
label(1403, 1039, "% BUSCOs", fontsize=FS)

handles = [Patch(facecolor=c, edgecolor="none") for c in busco_colors]
fig.legend(handles, busco_labels, loc="upper left", bbox_to_anchor=(1108.5 / W, 1 - 588 / H), frameon=False,
           fontsize=FS, handlelength=0.98, handleheight=1.06, labelspacing=0.33, handletextpad=0.56,
           borderpad=0, borderaxespad=0, labelcolor="#1a1a1a")

# ------------------ PANEL LETTERS ------------------

for x, y, letter in [(0, 17, "a"), (523, 17, "b"), (1023, 17, "c"), (0, 567, "d"), (1023, 567, "e")]:
    label(x, y, letter, fontsize=26, fontweight="bold", ha="left", color="black")

fig.savefig("out.png", dpi=100)
plt.close(fig)
